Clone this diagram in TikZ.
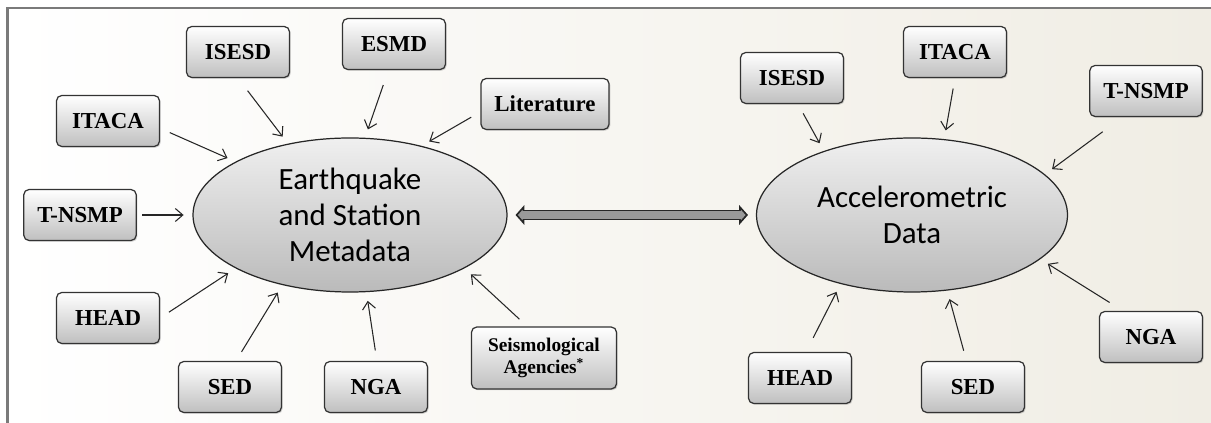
\documentclass[tikz,border=0pt]{standalone}
\usepackage{fontspec}
\setmainfont{Liberation Serif}
\newfontfamily\calibri{Carlito}
\usetikzlibrary{shapes.geometric,arrows.meta,shadows}
\definecolor{paper}{HTML}{F0EDE4}
\definecolor{framegray}{HTML}{7A7A7A}

\begin{document}
\begin{tikzpicture}
\tikzstyle{src}=[draw=black!80,line width=0.7pt,rounded corners=3pt,top color=white,bottom color=black!25,minimum width=2.06cm,minimum height=1.02cm,inner xsep=0.27cm,font=\fontsize{13}{15}\selectfont\bfseries,drop shadow={shadow xshift=0.7pt,shadow yshift=-0.7pt,opacity=0.35}]
\tikzstyle{db}=[ellipse,draw=black!85,line width=0.7pt,top color=black!6,bottom color=black!27,inner sep=0pt,minimum height=3.08cm,align=center,font=\calibri\fontsize{17.6}{20.7}\selectfont]
\tikzstyle{feed}=[line width=0.6pt,black!85,-{Straight Barb[length=1.5mm,width=2.6mm]},shorten <=6pt,shorten >=5pt]
\tikzstyle{linkout}=[line width=6.2pt,black!85,{Triangle[length=5pt,width=11pt]}-{Triangle[length=5pt,width=11pt]},shorten <=4.5pt,shorten >=4.5pt]
\tikzstyle{linkin}=[line width=4.2pt,black!40,{Triangle[length=2.6pt,width=5.8pt]}-{Triangle[length=2.6pt,width=5.8pt]},shorten <=5.9pt,shorten >=5.9pt]

\useasboundingbox (0,0) rectangle (24.22,8.46);
\fill[white] (0,0) rectangle (24.22,8.46);
\fill[left color=white,right color=paper] (0.15,0) rectangle (24.22,8.30);
\draw[framegray,line width=1.2pt] (0.15,0) -- (0.15,8.30) -- (24.22,8.30);

% metadata side
\node[db,minimum width=6.28cm] (quake) at (7.00,4.16) {Earthquake\\and Station\\Metadata};
\node[src] (isesd1) at (4.76,7.42) {ISESD};
\node[src] (esmd) at (7.88,7.58) {ESMD};
\node[src] (itaca1) at (2.16,6.04) {ITACA};
\node[src] (tnsmp1) at (1.60,4.16) {T-NSMP};
\node[src] (head1) at (2.16,2.10) {HEAD};
\node[src] (sed1) at (4.60,0.72) {SED};
\node[src] (nga1) at (7.52,0.72) {NGA};
\node[src] (lit) at (10.90,6.38) {Literature};
\node[src,minimum width=2.9cm,minimum height=1.24cm,align=center,font=\fontsize{11}{13}\selectfont\bfseries] (agency) at (10.88,1.30) {Seismological\\Agencies\textsuperscript{*}};

% accelerometric side
\node[db,minimum width=6.22cm] (accel) at (18.24,4.16) {Accelerometric\\Data};
\node[src] (isesd2) at (15.84,6.90) {ISESD};
\node[src] (itaca2) at (19.10,7.42) {ITACA};
\node[src] (tnsmp2) at (22.92,6.64) {T-NSMP};
\node[src] (nga2) at (23.02,1.72) {NGA};
\node[src] (sed2) at (19.46,0.72) {SED};
\node[src] (head2) at (16.00,0.90) {HEAD};

\draw[feed,shorten <=9pt] (isesd1.270) -- (quake.131);
\draw[feed,shorten <=9pt] (esmd.258) -- (quake.79);
\draw[feed] (itaca1.352) -- (quake.155);
\draw[feed,shorten <=3pt] (tnsmp1.east) -- (quake.west);
\draw[feed] (head1.east) -- (quake.205);
\draw[feed] (sed1.77) -- (quake.226);
\draw[feed] (nga1.88) -- (quake.282);
\draw[feed] (lit.187) -- (quake.44);
\draw[feed] (agency.118) -- (quake.335);

\draw[feed] (isesd2.283) -- (accel.144);
\draw[feed] (itaca2.270) -- (accel.67);
\draw[feed,shorten <=14pt] (tnsmp2.228) -- (accel.17);
\draw[feed,shorten <=9pt] (nga2.137) -- (accel.341);
\draw[feed] (sed2.104) -- (accel.295);
\draw[feed,shorten <=9pt] (head2.77) -- (accel.224);

% two-way link
\draw[linkout] (quake) -- (accel);
\draw[linkin] (quake) -- (accel);
\end{tikzpicture}
\end{document}
